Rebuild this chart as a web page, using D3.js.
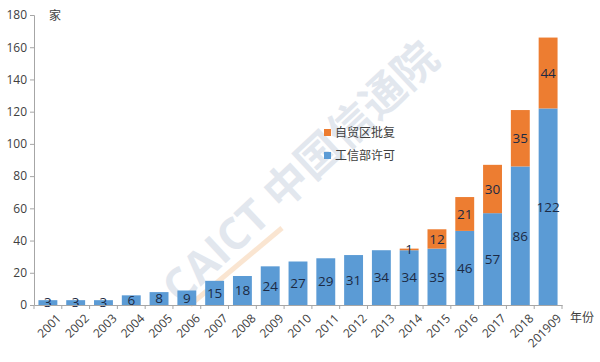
<!DOCTYPE html>
<html>
<head>
<meta charset="utf-8">
<script src="https://cdn.jsdelivr.net/npm/d3@7"></script>
<style>
body { margin: 0; background: #fff; }
svg text { font-family: "Open Sans", "Noto Sans CJK SC", sans-serif; }
</style>
</head>
<body>
<div id="chart"></div>
<script>
var years = ["2001","2002","2003","2004","2005","2006","2007","2008","2009","2010",
             "2011","2012","2013","2014","2015","2016","2017","2018","201909"];
var miit = [3,3,3,6,8,9,15,18,24,27,29,31,34,34,35,46,57,86,122];
var ftz  = [0,0,0,0,0,0,0,0,0,0,0,0,0,1,12,21,30,35,44];
var seriesNames = ["自贸区批复","工信部许可"];
var yTicks = [0,20,40,60,80,100,120,140,160,180];

var width = 600, height = 362;
var margin = {left: 34, right: 38, top: 15, bottom: 57};
var blue = "#5b9bd5", orange = "#ed7d31";

var svg = d3.select("#chart").append("svg")
    .attr("width", width)
    .attr("height", height);

/* watermark */
svg.append("line")
    .attr("x1", 190).attr("y1", 305)
    .attr("x2", 282).attr("y2", 228)
    .attr("stroke", "#f5c79a")
    .attr("stroke-width", 5)
    .attr("opacity", 0.45);
var wm = svg.append("g")
    .attr("transform", "translate(300,172) rotate(-43)")
    .attr("opacity", 0.14);
wm.append("text")
    .attr("text-anchor", "middle")
    .attr("font-size", 44)
    .attr("font-weight", "bold")
    .attr("fill", "#3a5a90")
    .attr("y", 16)
    .text("CAICT 中国信通院");

var x = d3.scaleBand()
    .domain(years)
    .range([margin.left, width - margin.right])
    .paddingInner(0.32)
    .paddingOuter(0.16);

var y = d3.scaleLinear()
    .domain([0, 180])
    .range([height - margin.bottom, margin.top]);

var data = years.map(function (d, i) { return {year: d, miit: miit[i], ftz: ftz[i]}; });
var stacked = d3.stack().keys(["miit", "ftz"])(data);
var colors = {miit: blue, ftz: orange};

/* bars */
var layers = svg.append("g").selectAll("g")
    .data(stacked)
    .join("g")
    .attr("fill", function (d) { return colors[d.key]; });

layers.selectAll("rect")
    .data(function (d) { return d; })
    .join("rect")
    .attr("x", function (d) { return x(d.data.year); })
    .attr("width", x.bandwidth())
    .attr("y", function (d) { return y(d[1]); })
    .attr("height", function (d) { return y(d[0]) - y(d[1]); });

/* data labels */
layers.selectAll("text")
    .data(function (d) { return d.filter(function (e) { return e[1] - e[0] > 0; }); })
    .join("text")
    .attr("x", function (d) { return x(d.data.year) + x.bandwidth() / 2; })
    .attr("y", function (d) { return (y(d[0]) + y(d[1])) / 2; })
    .attr("dy", "0.36em")
    .attr("text-anchor", "middle")
    .attr("font-size", 13.5)
    .attr("fill", "#1b2a44")
    .text(function (d) { return d[1] - d[0]; });

/* y axis */
var yAxis = svg.append("g")
    .attr("transform", "translate(" + margin.left + ",0)")
    .call(d3.axisLeft(y).tickValues(yTicks).tickSize(4).tickPadding(3));
yAxis.select(".domain").attr("stroke", "#a6a6a6");
yAxis.selectAll(".tick line").attr("stroke", "#a6a6a6");
yAxis.selectAll(".tick text").attr("font-size", 12).attr("fill", "#404040");

/* x axis */
var xAxis = svg.append("g")
    .attr("transform", "translate(0," + y(0) + ")")
    .call(d3.axisBottom(x).tickSize(0).tickSizeOuter(0));
xAxis.select(".domain").attr("stroke", "#a6a6a6");
xAxis.selectAll(".tick line").remove();
xAxis.selectAll(".tick text")
    .attr("font-size", 12)
    .attr("fill", "#404040")
    .attr("text-anchor", "end")
    .attr("transform", "translate(6,6) rotate(-45)")
    .attr("dy", "0.7em");

/* band boundary ticks */
var step = x.step();
var bounds = years.map(function (d) { return x(d) - step * x.paddingInner() / 2; })
    .concat([width - margin.right]);
svg.append("g").selectAll("line")
    .data(bounds)
    .join("line")
    .attr("x1", function (d) { return d; })
    .attr("x2", function (d) { return d; })
    .attr("y1", y(0))
    .attr("y2", y(0) + 4)
    .attr("stroke", "#a6a6a6");

/* units */
svg.append("text")
    .attr("x", 49).attr("y", 20)
    .attr("font-size", 12).attr("fill", "#404040")
    .text("家");
svg.append("text")
    .attr("x", 570).attr("y", 322)
    .attr("font-size", 12).attr("fill", "#404040")
    .text("年份");

/* legend */
var legend = svg.append("g")
    .attr("transform", "translate(324,133)");
var items = legend.selectAll("g")
    .data([{name: seriesNames[0], color: orange}, {name: seriesNames[1], color: blue}])
    .join("g")
    .attr("transform", function (d, i) { return "translate(0," + (i * 23) + ")"; });
items.append("rect")
    .attr("x", 0).attr("y", -4)
    .attr("width", 7).attr("height", 7)
    .attr("fill", function (d) { return d.color; });
items.append("text")
    .attr("x", 11).attr("y", 0)
    .attr("dy", "0.35em")
    .attr("font-size", 12)
    .attr("fill", "#404040")
    .text(function (d) { return d.name; });
</script>
</body>
</html>
